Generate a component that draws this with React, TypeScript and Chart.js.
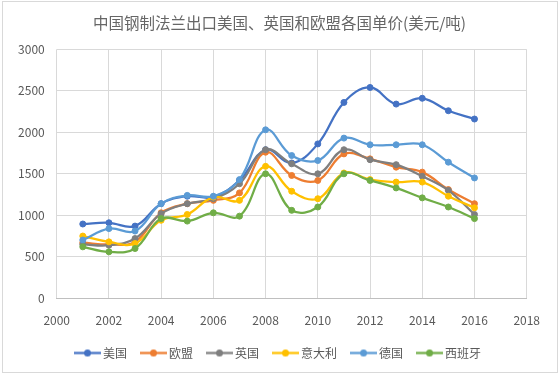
import React, { useEffect, useRef } from 'react';
import { Chart, registerables } from 'chart.js';

Chart.register(...registerables);

const TITLE = '中国钢制法兰出口美国、英国和欧盟各国单价(美元/吨)';
const years = [2001, 2002, 2003, 2004, 2005, 2006, 2007, 2008, 2009, 2010, 2011, 2012, 2013, 2014, 2015, 2016];
const seriesNames = ['美国', '欧盟', '英国', '意大利', '德国', '西班牙'];

const usa = [895, 910, 870, 1140, 1230, 1220, 1420, 1790, 1630, 1860, 2360, 2540, 2340, 2410, 2260, 2160];
const eu = [670, 650, 680, 1030, 1140, 1180, 1270, 1760, 1480, 1420, 1740, 1680, 1580, 1520, 1310, 1140];
const uk = [650, 640, 720, 1020, 1140, 1200, 1380, 1790, 1620, 1500, 1790, 1670, 1610, 1470, 1300, 1010];
const italy = [750, 680, 660, 940, 1010, 1220, 1180, 1590, 1290, 1200, 1510, 1430, 1400, 1400, 1230, 1090];
const germany = [702, 840, 810, 1140, 1240, 1230, 1430, 2030, 1720, 1660, 1930, 1850, 1850, 1850, 1640, 1450];
const spain = [620, 560, 600, 960, 930, 1030, 990, 1500, 1060, 1100, 1500, 1420, 1330, 1210, 1100, 960];

const colors = ['#4472C4', '#ED7D31', '#7F7F7F', '#FFC000', '#5B9BD5', '#70AD47'];

const FONT = "'Noto Sans CJK SC', 'Noto Sans', sans-serif";
const TEXT = '#595959';

export default function App() {
  const ref = useRef<HTMLCanvasElement>(null);

  useEffect(() => {
    const series = [usa, eu, uk, italy, germany, spain];
    const makeIcon = (c: string) => {
      const cv = document.createElement('canvas');
      cv.width = 27;
      cv.height = 9;
      const g = cv.getContext('2d')!;
      g.strokeStyle = c;
      g.lineWidth = 2.25;
      g.beginPath();
      g.moveTo(0, 4.5);
      g.lineTo(27, 4.5);
      g.stroke();
      g.fillStyle = c;
      g.beginPath();
      g.arc(13.5, 4.5, 3.5, 0, Math.PI * 2);
      g.fill();
      return cv;
    };
    const icons = colors.map(makeIcon);

    const chart = new Chart(ref.current!, {
      type: 'line',
      data: {
        datasets: series.map((vals, i) => ({
          label: seriesNames[i],
          data: years.map((y, j) => ({ x: y, y: vals[j] })),
          borderColor: colors[i],
          backgroundColor: colors[i],
          pointBackgroundColor: colors[i],
          pointBorderColor: colors[i],
          borderWidth: 2.25,
          pointRadius: 3,
          pointBorderWidth: 1,
          tension: 0.4,
          order: series.length - i,
          yAxisID: 'y',
          xAxisID: 'x',
        })),
      },
      options: {
        responsive: false,
        animation: false,
        devicePixelRatio: 1,
        layout: { padding: { left: 0, right: 0, top: 0, bottom: 7 } },
        plugins: {
          title: {
            display: true,
            text: TITLE,
            color: '#666666',
            font: { family: FONT, size: 15.5, weight: 'normal' },
            padding: { top: 13.7, bottom: 17 },
          },
          legend: {
            display: true,
            position: 'bottom',
            labels: {
              usePointStyle: true,
              pointStyleWidth: 19,
              padding: 17,
              color: TEXT,
              font: { family: FONT, size: 12 },
              generateLabels: (ch: any) =>
                ch.data.datasets.map((ds: any, i: number) => ({
                  text: ds.label,
                  pointStyle: icons[i],
                  fillStyle: colors[i],
                  strokeStyle: colors[i],
                  lineWidth: 0,
                  hidden: false,
                  datasetIndex: i,
                  fontColor: TEXT,
                })),
            },
          },
          tooltip: { enabled: false },
        },
        scales: {
          x: {
            type: 'linear',
            position: 'bottom',
            min: 2000,
            max: 2018,
            ticks: {
              stepSize: 2,
              padding: 14.5,
              color: TEXT,
              font: { family: FONT, size: 12 },
              callback: (v: any) => String(v),
            },
            grid: { color: '#D9D9D9', lineWidth: 1, drawTicks: false },
            border: { display: true, color: '#BFBFBF', width: 1 },
            afterFit: (s: any) => {
              s.height = 31.7;
            },
          },
          y: {
            type: 'linear',
            position: 'left',
            min: 0,
            max: 3000,
            ticks: {
              stepSize: 500,
              padding: 12,
              color: TEXT,
              font: { family: FONT, size: 12 },
              callback: (v: any) => String(v),
            },
            grid: { color: '#D9D9D9', lineWidth: 1, drawTicks: false },
            border: { display: false },
            afterFit: (s: any) => {
              s.width = 56.7;
            },
          },
          yRight: {
            type: 'linear',
            position: 'right',
            display: true,
            min: 0,
            max: 3000,
            ticks: { display: false },
            grid: { display: false, drawTicks: false },
            border: { display: false },
            afterFit: (s: any) => {
              s.width = 32.3;
            },
          },
        },
      } as any,
    });
    return () => chart.destroy();
  }, []);

  return (
    <div style={{ position: 'absolute', left: 0, top: 0, width: 559, height: 376, background: '#fff' }}>
      <canvas ref={ref} width={559} height={376} style={{ position: 'absolute', left: 0, top: 0, width: 559, height: 376 }} />
      <div
        style={{
          position: 'absolute',
          left: 2,
          top: 1,
          width: 554,
          height: 370,
          border: '1px solid #D9D9D9',
          pointerEvents: 'none',
        }}
      />
    </div>
  );
}
